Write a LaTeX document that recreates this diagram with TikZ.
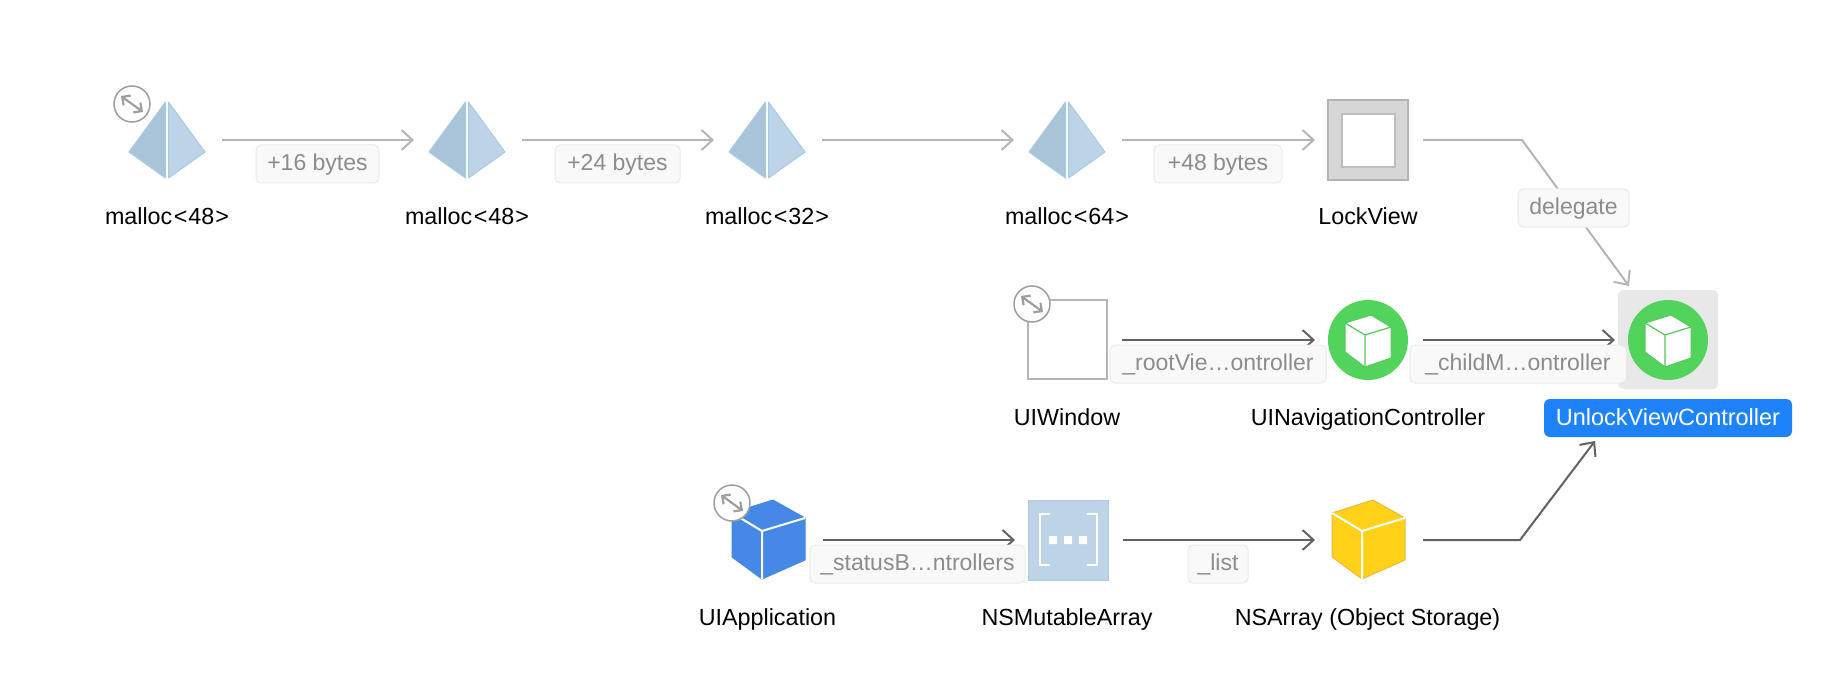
\documentclass[tikz,border=0pt]{standalone}
\usepackage{fontspec}
\setmainfont{Liberation Sans}
\usetikzlibrary{arrows.meta}
\definecolor{lg}{HTML}{B5B5B5}
\definecolor{dg}{HTML}{626262}
\definecolor{pl}{HTML}{A9C4D8}
\definecolor{pr}{HTML}{BDD3E7}
\definecolor{pe}{HTML}{A6CBE0}
\definecolor{gc}{HTML}{52D35C}
\definecolor{gb}{HTML}{52C95A}
\definecolor{bluecube}{HTML}{4688E6}
\definecolor{yellowcube}{HTML}{FFD118}
\definecolor{yellowedge}{HTML}{EFB93C}
\definecolor{arrfill}{HTML}{BDD3E7}
\definecolor{arredge}{HTML}{AECAE0}
\definecolor{sel}{HTML}{1E82FA}
\definecolor{elabt}{HTML}{8C8C8C}
\tikzset{x=1pt,y=-1pt,
 lab/.style={font=\fontsize{23.3}{26}\selectfont,text=black,inner sep=0pt,anchor=base},
 elab/.style={font=\fontsize{23}{26}\selectfont,text=elabt,fill=black!2.5,draw=black!8,line width=1pt,rounded corners=5pt,inner sep=0pt,minimum height=38pt,anchor=center,text height=17pt,text depth=3.6pt},
 wk/.style={draw=lg,line width=2pt,shorten <=2pt,-{Straight Barb[length=11pt,width=20pt,line width=2pt]}},
 st/.style={draw=dg,line width=2pt,shorten <=2pt,-{Straight Barb[length=11pt,width=20pt,line width=2pt]}},
 iconbox/.style={inner sep=0pt,outer sep=0pt,minimum size=106pt},
}
\newcommand{\mal}[1]{malloc\kern1.5pt<\kern1pt#1\kern1pt>}
\newcommand{\pyr}[1]{%
 \begin{scope}[shift={(#1)}]
 \fill[pl,draw=pe,line width=1pt,line join=round] (-1.5,-38)--(-1.5,38)--(-38,12)--cycle;
 \fill[pr,draw=pe,line width=1pt,line join=round] (1.5,-38)--(1.5,38)--(38,12)--cycle;
 \end{scope}}
\newcommand{\expandicon}[1]{%
 \begin{scope}[shift={(#1)}]
 \fill[white,draw=black!38,line width=1.5pt] (0,0) circle (18);
 \draw[black!38,line width=2.2pt,{Straight Barb[length=6pt,width=12pt,line width=2.2pt]}-{Straight Barb[length=6pt,width=12pt,line width=2.2pt]}] (-11,-8)--(11,8);
 \end{scope}}
\newcommand{\cubeicon}[3]{%
 \begin{scope}[shift={(#1)}]
 \fill[#2,draw=#3,line width=1pt,line join=round] (-36,-27)--(5,-40)--(37,-22)--(37,20)--(-6,39)--(-36,17)--cycle;
 \draw[white,line width=2pt] (-36,-27)--(-6,-9)--(37,-22) (-6,-9)--(-6,39);
 \end{scope}}
\newcommand{\gcirc}[1]{%
 \begin{scope}[shift={(#1)}]
 \fill[gc] (0,0) circle (40);
 \fill[white,draw=gb,line width=1pt,line join=round] (-23,-17)--(3,-25)--(23,-13)--(23,18)--(-3,27)--(-23,12)--cycle;
 \draw[gb,line width=1.2pt] (-23,-17)--(-3,-5)--(23,-13) (-3,-5)--(-3,27);
 \end{scope}}
\begin{document}
\begin{tikzpicture}
\useasboundingbox (0,0) rectangle (1832,698);
\fill[white] (0,0) rectangle (1832,698);
\fill[black!9,rounded corners=5pt] (1618,290) rectangle (1718,389);
% icons
\pyr{167,140}\pyr{467,140}\pyr{767,140}\pyr{1067,140}
\fill[black!16,draw=black!30,line width=1.5pt] (1328,100) rectangle (1408,180);
\fill[white,draw=black!26,line width=1.5pt] (1342,114) rectangle (1395,167);
\draw[lg,fill=white,line width=1.5pt] (1028,300) rectangle (1107,379);
\gcirc{1368,340}
\gcirc{1668,340}
\cubeicon{768,540}{bluecube}{bluecube}
\fill[arrfill,draw=arredge,line width=1pt] (1028,500) rectangle (1108,580);
\draw[white,line width=2.4pt] (1050,514)--(1040,514)--(1040,565)--(1050,565);
\draw[white,line width=2.4pt] (1087,514)--(1097,514)--(1097,565)--(1087,565);
\fill[white] (1049,536) rectangle (1057,544) (1064,536) rectangle (1072,544) (1079,536) rectangle (1087,544);
\cubeicon{1368,540}{yellowcube}{yellowedge}
\expandicon{132,104}
\expandicon{1032,304}
\expandicon{732,503}
% anchor nodes
\node[iconbox] (m1) at (167,140) {};
\node[iconbox] (m2) at (467,140) {};
\node[iconbox] (m3) at (767,140) {};
\node[iconbox] (m4) at (1067,140) {};
\node[iconbox] (lock) at (1368,140) {};
\node[iconbox] (win) at (1067,340) {};
\node[iconbox] (nav) at (1368,340) {};
\node[iconbox] (unl) at (1668,340) {};
\node[iconbox] (app) at (768,540) {};
\node[iconbox] (arr) at (1068,540) {};
\node[iconbox] (store) at (1368,540) {};
\coordinate (bendA) at (1522,140);
\coordinate (endA) at (1629,286);
\coordinate (bendB) at (1520,540);
\coordinate (endB) at (1595,441);
% connectors
\draw[wk] (m1.east)--(m2.west);
\draw[wk] (m2.east)--(m3.west);
\draw[wk] (m3.east)--(m4.west);
\draw[wk] (m4.east)--(lock.west);
\draw[wk] (lock.east)--(bendA)--(endA);
\draw[st] (win.east)--(nav.west);
\draw[st] (nav.east)--(unl.west);
\draw[st] (app.east)--(arr.west);
\draw[st] (arr.east)--(store.west);
\draw[st] (store.east)--(bendB)--(endB);
% edge labels
\node[elab,minimum width=123pt] (e1) at (317.5,164) {+16 bytes};
\node[elab,minimum width=125pt] (e2) at (617.5,164) {+24 bytes};
\node[elab,minimum width=128pt] (e3) at (1218,164) {+48 bytes};
\node[elab,minimum width=111pt] (e4) at (1573.5,208) {delegate};
\node[elab,minimum width=216pt] (e5) at (1218,364) {\_rootVie…ontroller};
\node[elab,minimum width=216pt] (e6) at (1518,364) {\_childM…ontroller};
\node[elab,minimum width=215pt] (e7) at (917.5,564) {\_statusB…ntrollers};
\node[elab,minimum width=60pt] (e8) at (1218,564) {\_list};
% object labels
\node[lab] (t1) at (167,224.5) {\mal{48}};
\node[lab] (t2) at (467,224.5) {\mal{48}};
\node[lab] (t3) at (767,224.5) {\mal{32}};
\node[lab] (t4) at (1067,224.5) {\mal{64}};
\node[lab] (t5) at (1368,224.5) {LockView};
\node[lab] (t6) at (1067,425) {UIWindow};
\node[lab] (t7) at (1368,425) {UINavigationController};
\node[fill=sel,rounded corners=6pt,inner sep=0pt,minimum width=248pt,minimum height=38pt,text=white,font=\fontsize{23.5}{26}\selectfont,text height=17pt,text depth=3pt] (t8) at (1668,418) {UnlockViewController};
\node[lab] (t9) at (767.5,625) {UIApplication};
\node[lab] (t10) at (1067,625) {NSMutableArray};
\node[lab] (t11) at (1367.5,625) {NSArray (Object Storage)};
\end{tikzpicture}
\end{document}
